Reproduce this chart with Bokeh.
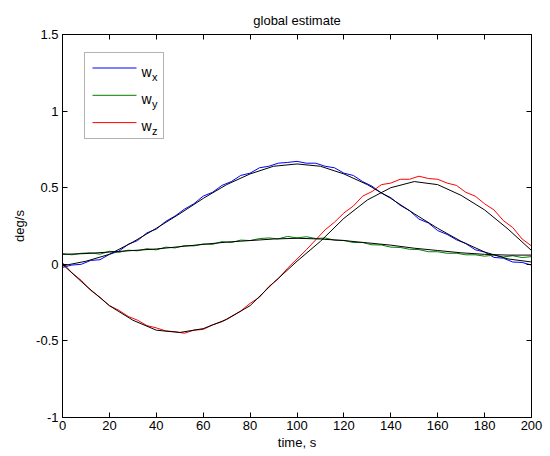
from bokeh.plotting import figure
from bokeh.models import (LinearAxis, FixedTicker, CustomJSTickFormatter, Label, Range1d,
                          BoxAnnotation, Arrow)
from bokeh.embed import file_html
from bokeh.resources import INLINE

# ---- data -------------------------------------------------------------
t_true = [0, 10, 20, 30, 40, 50, 60, 70, 80, 90, 100,
          110, 120, 130, 140, 150, 160, 170, 180, 190, 200]
wx_true = [-0.01, 0.02, 0.065, 0.145, 0.235, 0.33, 0.43, 0.52, 0.59, 0.64, 0.655,
           0.64, 0.59, 0.52, 0.43, 0.33, 0.235, 0.15, 0.08, 0.035, 0.015]
wy_true = [0.065, 0.07, 0.08, 0.09, 0.10, 0.115, 0.13, 0.145, 0.155, 0.165, 0.17,
           0.165, 0.155, 0.14, 0.125, 0.105, 0.09, 0.075, 0.065, 0.06, 0.06]
wz_true = [0.0, -0.14, -0.27, -0.365, -0.43, -0.445, -0.42, -0.36, -0.27, -0.12, 0.02,
           0.15, 0.30, 0.42, 0.50, 0.54, 0.52, 0.45, 0.355, 0.23, 0.09]

t_est = [0, 4, 8, 12, 16, 20, 24, 28, 32, 36, 40, 44, 48, 52, 56, 60, 64, 68, 72, 76,
         80, 84, 88, 92, 96, 100, 104, 108, 112, 116, 120, 124, 128, 132, 136, 140,
         144, 148, 152, 156, 160, 164, 168, 172, 176, 180, 184, 188, 192, 196, 200]
wx_est = [-0.02, -0.005, 0.0, 0.025, 0.03, 0.065, 0.085, 0.13, 0.155, 0.205, 0.23,
          0.28, 0.315, 0.36, 0.395, 0.445, 0.47, 0.515, 0.54, 0.58, 0.595, 0.63,
          0.64, 0.66, 0.665, 0.672, 0.66, 0.66, 0.64, 0.63, 0.595, 0.58, 0.54,
          0.51, 0.465, 0.435, 0.385, 0.35, 0.295, 0.27, 0.22, 0.195, 0.16, 0.135,
          0.095, 0.08, 0.045, 0.04, 0.015, 0.012, -0.005]
wy_est = [0.07, 0.062, 0.072, 0.075, 0.066, 0.085, 0.078, 0.092, 0.088, 0.102, 0.094,
          0.112, 0.107, 0.122, 0.12, 0.133, 0.13, 0.148, 0.142, 0.158, 0.155, 0.168,
          0.172, 0.166, 0.182, 0.172, 0.18, 0.168, 0.172, 0.158, 0.156, 0.142, 0.142,
          0.127, 0.126, 0.112, 0.11, 0.098, 0.096, 0.082, 0.082, 0.072, 0.072, 0.062,
          0.062, 0.053, 0.06, 0.048, 0.056, 0.044, 0.05]
wz_est = [0.01, -0.055, -0.105, -0.17, -0.215, -0.27, -0.3, -0.34, -0.365, -0.4,
          -0.415, -0.435, -0.44, -0.45, -0.43, -0.425, -0.395, -0.375, -0.34, -0.305,
          -0.255, -0.215, -0.145, -0.095, -0.025, 0.035, 0.095, 0.16, 0.225, 0.275,
          0.335, 0.38, 0.445, 0.475, 0.52, 0.53, 0.555, 0.555, 0.575, 0.56, 0.555,
          0.53, 0.515, 0.47, 0.445, 0.395, 0.355, 0.285, 0.24, 0.165, 0.12]

x_ticks = [0, 20, 40, 60, 80, 100, 120, 140, 160, 180, 200]
y_ticks = [-1, -0.5, 0, 0.5, 1, 1.5]
series_labels = ["w", "w", "w"]
series_subs = ["x", "y", "z"]
series_colors = ["#0000ff", "#008000", "#ff0000"]

FONT = "Liberation Sans"

p = figure(frame_width=469, frame_height=383, output_backend="svg",
           toolbar_location=None, x_range=Range1d(0, 200), y_range=Range1d(-1, 1.5),
           min_border_left=62, min_border_right=19, min_border_top=34,
           min_border_bottom=39, title="global estimate")
p.title.align = "center"
p.title.text_font = FONT
p.title.text_font_size = "13px"
p.title.text_font_style = "normal"
p.title.text_color = "black"
p.title.standoff = 14
p.grid.visible = False
p.outline_line_color = "black"
p.outline_line_width = 1

fmt = CustomJSTickFormatter(code="return tick.toString();")
blank = CustomJSTickFormatter(code="return '';")

xa = p.xaxis[0]
xa.ticker = FixedTicker(ticks=x_ticks)
xa.formatter = fmt
xa.axis_label = "time, s"
ya = p.yaxis[0]
ya.ticker = FixedTicker(ticks=y_ticks)
ya.formatter = fmt
ya.axis_label = "deg/s"
for ax in (xa, ya):
    ax.major_tick_in = 5
    ax.major_tick_out = 0
    ax.minor_tick_line_color = None
    ax.axis_line_color = "black"
    ax.major_tick_line_color = "black"
    ax.major_label_text_font = FONT
    ax.major_label_text_font_size = "13px"
    ax.major_label_text_color = "black"
    ax.axis_label_text_font = FONT
    ax.axis_label_text_font_size = "13px"
    ax.axis_label_text_font_style = "normal"
    ax.axis_label_text_color = "black"
xa.major_label_standoff = 3
xa.axis_label_standoff = 2
ya.major_label_standoff = 4
ya.axis_label_standoff = 6

top = LinearAxis(ticker=FixedTicker(ticks=x_ticks), formatter=blank,
                 major_tick_in=5, major_tick_out=0, minor_tick_line_color=None,
                 major_label_standoff=0, major_label_text_font_size="1px")
right = LinearAxis(ticker=FixedTicker(ticks=y_ticks), formatter=blank,
                   major_tick_in=5, major_tick_out=0, minor_tick_line_color=None,
                   major_label_standoff=0, major_label_text_font_size="1px")
p.add_layout(top, "above")
p.add_layout(right, "right")

for ts, ys, col in ((t_est, wx_est, series_colors[0]), (t_est, wy_est, series_colors[1]),
                    (t_est, wz_est, series_colors[2])):
    p.line(ts, ys, line_color=col, line_width=1)
for ys in (wx_true, wy_true, wz_true):
    p.line(t_true, ys, line_color="black", line_width=1)

# ---- legend (drawn by hand so the subscripts can be set) --------------
p.add_layout(BoxAnnotation(left=22, right=101, bottom=279, top=365,
                           left_units="screen", right_units="screen",
                           bottom_units="screen", top_units="screen",
                           fill_color="white", fill_alpha=1,
                           line_color="black", line_width=1))
for i in range(3):
    yc = 349.5 - 27.3 * i
    p.add_layout(Arrow(end=None, x_start=30, x_end=74, y_start=yc, y_end=yc,
                       start_units="screen", end_units="screen",
                       line_color=series_colors[i], line_width=1))
    p.add_layout(Label(x=79, y=yc - 3.5, x_units="screen", y_units="screen",
                       text=series_labels[i], text_font=FONT, text_font_size="14px",
                       text_baseline="alphabetic", text_color="black"))
    p.add_layout(Label(x=89.5, y=yc - 8.5, x_units="screen", y_units="screen",
                       text=series_subs[i], text_font=FONT, text_font_size="11px",
                       text_baseline="alphabetic", text_color="black"))

open("out.html", "w").write(file_html(p, INLINE))
